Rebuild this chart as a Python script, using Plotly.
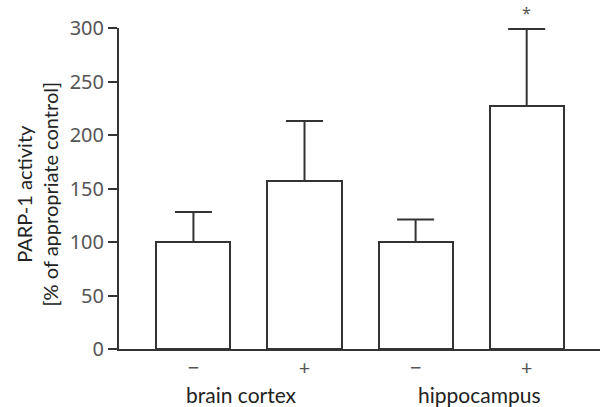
import plotly.graph_objects as go

positions = [0, 1, 2, 3]
tick_labels = ["−", "+", "−", "+"]
values = [100, 157, 100, 227]
errors_up = [28, 56, 21, 72]
groups = ["brain cortex", "hippocampus"]
group_x = [0.436, 2.574]
star_label = "*"
star_index = 3
y_ticks = [0, 50, 100, 150, 200, 250, 300]
y_title = "PARP-1 activity<br>[% of appropriate control]"

fig = go.Figure()
fig.add_trace(go.Bar(
    x=positions, y=values, width=0.667,
    marker=dict(color="white", line=dict(color="#333333", width=2)),
    error_y=dict(type="data", array=errors_up, arrayminus=[0]*4, symmetric=False,
                 color="#333333", thickness=2, width=18.5),
    showlegend=False,
))

for gx, g in zip(group_x, groups):
    fig.add_annotation(x=gx, xref="x", y=0, yref="paper", yanchor="middle",
                       yshift=-45, text=g, showarrow=False,
                       font=dict(family="Lato", size=21, color="#222222"))

fig.add_annotation(x=positions[star_index], xref="x",
                   y=values[star_index] + errors_up[star_index], yref="y",
                   yshift=16, text=star_label, showarrow=False,
                   font=dict(size=16, color="#555555"))

fig.add_annotation(x=-0.1705, xref="paper", y=0.4844, yref="paper",
                   xanchor="center", yanchor="middle", textangle=-90,
                   text=y_title, showarrow=False,
                   font=dict(family="Lato", size=20, color="#222222"))

fig.update_layout(
    width=600, height=407,
    margin=dict(l=119, r=0, t=28, b=58),
    plot_bgcolor="white", paper_bgcolor="white",
    font=dict(family="Noto Sans", color="#555555"),
    bargap=0,
)
fig.update_xaxes(
    range=[-0.67, 3.66], tickvals=positions, ticktext=tick_labels,
    showline=True, linecolor="#333333", linewidth=2, showgrid=False, zeroline=False,
    ticks="", tickfont=dict(size=20, color="#555555"), automargin=False,
)
fig.update_yaxes(
    range=[0, 300], tickvals=y_ticks,
    showline=True, linecolor="#333333", linewidth=2, showgrid=False, zeroline=False,
    ticks="outside", ticklen=9, tickwidth=2, tickcolor="#333333",
    tickfont=dict(size=20, color="#555555"), automargin=False,
)

fig.write_html("out.html", config={"displayModeBar": False},
               post_script="document.body.style.margin='0';document.body.style.padding='0';")
